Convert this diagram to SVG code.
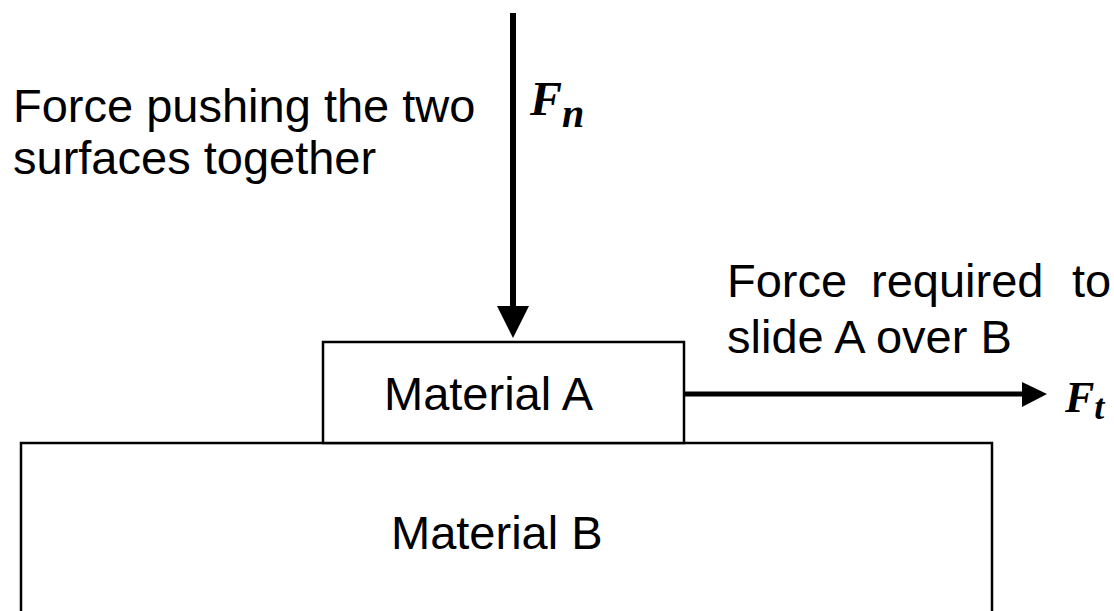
<svg xmlns="http://www.w3.org/2000/svg" width="1114" height="611" viewBox="0 0 1114 611">
<style>
.lbl{font-family:"Liberation Sans",Arial,sans-serif;font-size:47px;fill:#000}
.sym{font-family:"Liberation Serif","Times New Roman",serif;font-weight:bold;font-style:italic;fill:#000}
.box{fill:#fff;stroke:#000;stroke-width:2.5}
.shaft{stroke:#000;fill:none}
</style>
<rect width="1114" height="611" fill="#fff"/>
<g id="materialB">
<rect class="box" x="21" y="443" width="971" height="220"/>
<text class="lbl" x="391" y="549">Material B</text>
</g>
<g id="materialA">
<rect class="box" x="323" y="342" width="361" height="101"/>
<text class="lbl" x="384" y="410">Material A</text>
</g>
<g id="connectors">
<line class="shaft" x1="513" y1="13" x2="513" y2="308" stroke-width="6"/>
<polygon points="497,306 529,306 513,338" fill="#000"/>
<line class="shaft" x1="685" y1="394" x2="1024" y2="394" stroke-width="5"/>
<polygon points="1022,382 1022,407 1047,394" fill="#000"/>
</g>
<g id="label-normal">
<text class="lbl" x="13" y="122" font-size="46">Force pushing the two</text>
<text class="lbl" x="13" y="174" font-size="46">surfaces together</text>
<text class="sym" x="530" y="115" font-size="48">F<tspan font-size="40" dy="12">n</tspan></text>
</g>
<g id="label-tangential">
<text class="lbl" x="727" y="297">Force<tspan x="871">required</tspan><tspan x="1072">to</tspan></text>
<text class="lbl" x="727" y="353">slide A over B</text>
<text class="sym" x="1065" y="412" font-size="44">F<tspan font-size="36" dy="7">t</tspan></text>
</g>
</svg>
